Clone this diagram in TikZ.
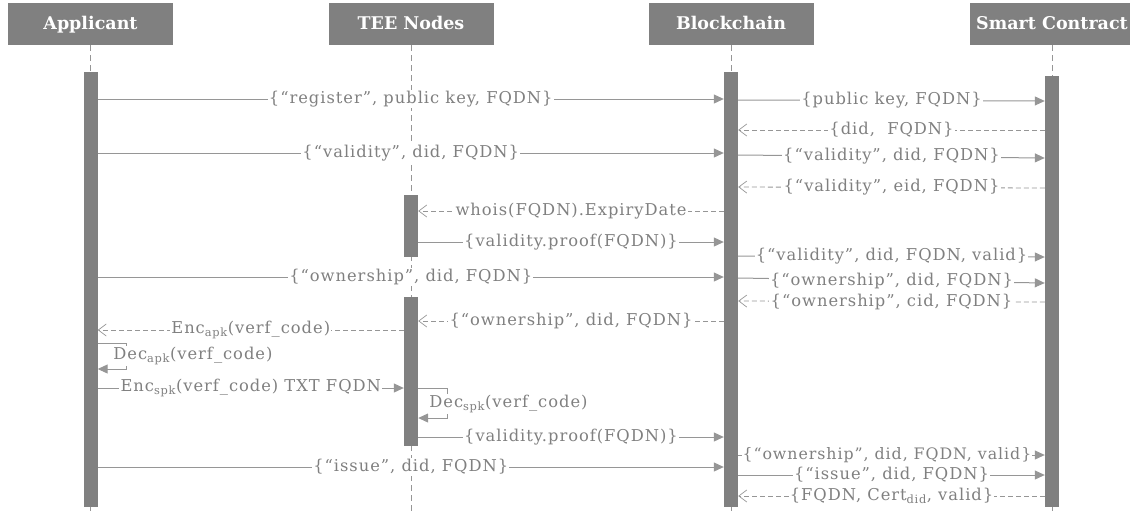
\documentclass[tikz,border=0pt]{standalone}
\usepackage{fontspec}
\setmainfont{DejaVu Serif}
\newfontfamily\lblfont{DejaVu Serif}[LetterSpace=6]
\usetikzlibrary{arrows.meta}
\definecolor{hdr}{RGB}{128,128,128}
\definecolor{barc}{RGB}{128,128,128}
\definecolor{linec}{RGB}{150,150,150}
\definecolor{textc}{RGB}{128,128,128}
\tikzset{
  lane/.style={fill=hdr, draw=none, text=white, font=\fontsize{17.5}{20}\selectfont\bfseries,
    minimum width=165pt, minimum height=42pt, inner sep=0pt},
  bar/.style={fill=barc, draw=none, minimum width=14pt, inner sep=0pt},
  life/.style={draw=linec, line width=0.9pt, dash pattern=on 6pt off 4pt},
  msg/.style={draw=linec, line width=1pt, -{Triangle[length=10pt,width=9pt]}},
  ret/.style={draw=linec, line width=0.8pt, dash pattern=on 5pt off 3pt,
    -{Straight Barb[length=8pt,width=12pt,line width=0.7pt]}},
  lbl/.style={fill=white, text=textc, inner sep=1.2pt, font=\lblfont\fontsize{16.3}{18}\selectfont}
}
\newcommand\subx[1]{\textsubscript{#1}}
\begin{document}
\begin{tikzpicture}[x=1pt,y=-1pt]
\useasboundingbox (0,0) rectangle (1130,515);

% participants
\node[lane, text depth=3pt, text height=13pt] (hA) at (90.5,24)  {Applicant};
\node[lane, text depth=3pt, text height=13pt] (hT) at (411,24)   {TEE Nodes};
\node[lane, text depth=3pt, text height=13pt] (hB) at (731,24)   {Blockchain};
\node[lane, text depth=3pt, text height=13pt] (hS) at (1052,24)  {Smart Contract};

% lifeline ends
\coordinate (eA) at (90.5,515);
\coordinate (eT) at (411,515);
\coordinate (eB) at (731,515);
\coordinate (eS) at (1052,515);
\draw[life] (hA.south) -- (eA);
\draw[life] (hT.south) -- (eT);
\draw[life] (hB.south) -- (eB);
\draw[life] (hS.south) -- (eS);

% activation bars
\node[bar, minimum height=435pt] (bA)  at (90.5,289.5) {};
\node[bar, minimum height=435pt] (bB)  at (731,289.5)  {};
\node[bar, minimum height=431pt] (bS)  at (1052,291.5) {};
\node[bar, minimum height=62pt]  (bT1) at (411,226)    {};
\node[bar, minimum height=149pt] (bT2) at (411,371.5)  {};

% registration
\draw[msg] (bA.east |- 0,99) -- node[lbl] {\{“register”, public key, FQDN\}} (bB.west |- 0,99);
\draw[msg] (bB.east |- 0,100) -- node[lbl] {\{public key, FQDN\}} (bS.west |- 0,101);
\draw[ret] (bS.west |- 0,130) -- node[lbl] {\{did,\ \ FQDN\}} (bB.east |- 0,130);

% validity
\draw[msg] (bA.east |- 0,153) -- node[lbl] {\{“validity”, did, FQDN\}} (bB.west |- 0,153);
\draw[msg] (bB.east |- 0,155) -- node[lbl] {\{“validity”, did, FQDN\}} (bS.west |- 0,158);
\draw[ret] (bS.west |- 0,188) -- node[lbl] {\{“validity”, eid, FQDN\}} (bB.east |- 0,187);
\draw[ret] (bB.west |- 0,211) -- node[lbl] {whois(FQDN).ExpiryDate} (bT1.east |- 0,211);
\draw[msg] (bT1.east |- 0,242) -- node[lbl] {\{validity.proof(FQDN)\}} (bB.west |- 0,242);
\draw[msg] (bB.east |- 0,256) -- node[lbl] {\{“validity”, did, FQDN, valid\}} (bS.west |- 0,257);

% ownership
\draw[msg] (bA.east |- 0,277) -- node[lbl] {\{“ownership”, did, FQDN\}} (bB.west |- 0,277);
\draw[msg] (bB.east |- 0,278) -- node[lbl] {\{“ownership”, did, FQDN\}} (bS.west |- 0,283);
\draw[ret] (bS.west |- 0,302) -- node[lbl] {\{“ownership”, cid, FQDN\}} (bB.east |- 0,301);
\draw[ret] (bB.west |- 0,321) -- node[lbl] {\{“ownership”, did, FQDN\}} (bT2.east |- 0,321);
\draw[ret] (bT2.west |- 0,330) -- node[lbl] {Enc\subx{apk}(verf\_code)} (bA.east |- 0,330);

% applicant decrypts
\draw[msg] (bA.east |- 0,343) -- ++(29,0) -- ++(0,26) -- (bA.east |- 0,369);
\node[lbl, anchor=west] (dA) at (112,356) {Dec\subx{apk}(verf\_code)};

\draw[msg] (bA.east |- 0,388) -- node[lbl] {Enc\subx{spk}(verf\_code) TXT FQDN} (bT2.west |- 0,388);

% TEE decrypts
\draw[msg] (bT2.east |- 0,388) -- ++(29,0) -- ++(0,30) -- (bT2.east |- 0,418);
\node[lbl, anchor=west] (dT) at (428,404) {Dec\subx{spk}(verf\_code)};

\draw[msg] (bT2.east |- 0,437) -- node[lbl] {\{validity.proof(FQDN)\}} (bB.west |- 0,437);
\draw[msg] (bB.east |- 0,455) -- node[lbl, inner sep=0.5pt, pos=0.485,
  font=\lblfont\fontsize{15.8}{18}\selectfont] {\{“ownership”, did, FQDN, valid\}} (bS.west |- 0,455);

% issuing
\draw[msg] (bA.east |- 0,467) -- node[lbl] {\{“issue”, did, FQDN\}} (bB.west |- 0,467);
\draw[msg] (bB.east |- 0,475) -- node[lbl] {\{“issue”, did, FQDN\}} (bS.west |- 0,475);
\draw[ret] (bS.west |- 0,496) -- node[lbl] {\{FQDN, Cert\subx{did}, valid\}} (bB.east |- 0,496);
\end{tikzpicture}
\end{document}
